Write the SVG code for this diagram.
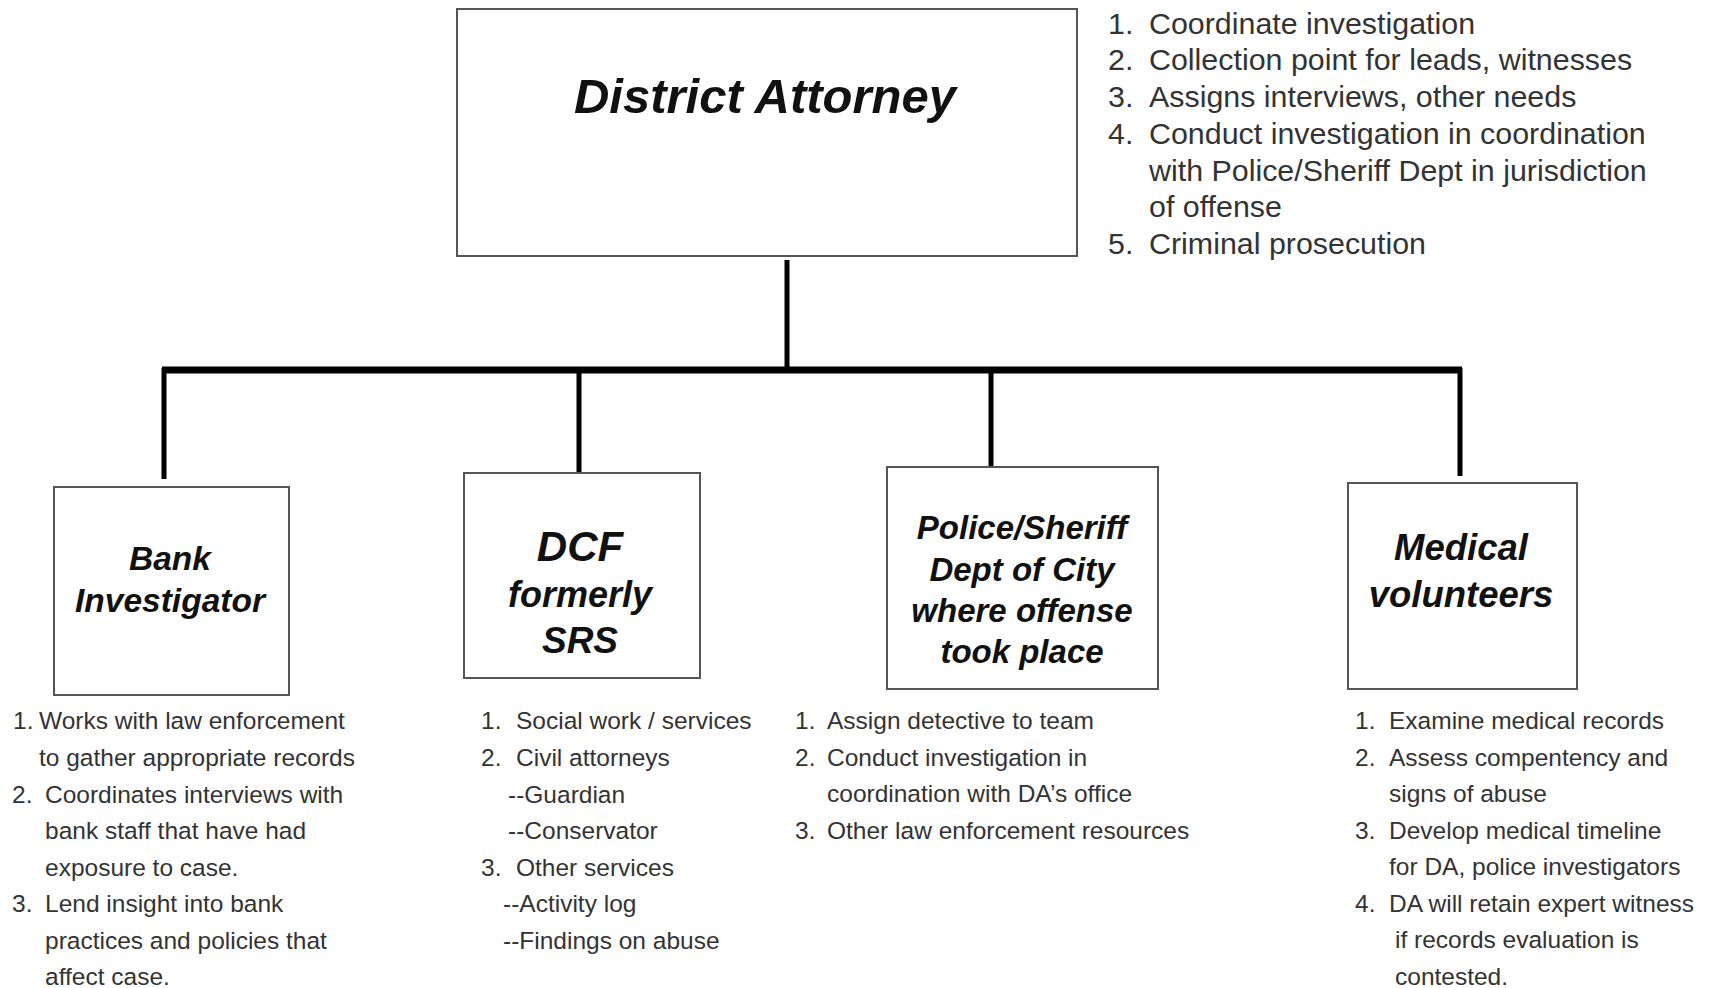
<svg xmlns="http://www.w3.org/2000/svg" width="1714" height="988" viewBox="0 0 1714 988">
<style>
.box{fill:#fff;stroke:#555;stroke-width:2}
.title{font-family:"Liberation Sans",Arial,sans-serif;font-weight:bold;font-style:italic;fill:#111;text-anchor:middle}
.da{font-family:"Liberation Sans",Arial,sans-serif;font-size:30.4px;fill:#333}
.lst{font-family:"Liberation Sans",Arial,sans-serif;font-size:24.5px;fill:#333}
.conn{stroke:#000;fill:none}
</style>
<rect width="1714" height="988" fill="#fff"/>
<g id="connectors">
<line class="conn" x1="787" y1="260" x2="787" y2="372" stroke-width="5"/>
<line class="conn" x1="162" y1="370" x2="1462" y2="370" stroke-width="7"/>
<line class="conn" x1="164" y1="368" x2="164" y2="479" stroke-width="5"/>
<line class="conn" x1="579" y1="370" x2="579" y2="473" stroke-width="5"/>
<line class="conn" x1="991" y1="370" x2="991" y2="478" stroke-width="5"/>
<line class="conn" x1="1460" y1="368" x2="1460" y2="476" stroke-width="5"/>
</g>
<g id="district-attorney">
<rect class="box" x="457" y="9" width="620" height="247"/>
<text class="title" x="765" y="113" font-size="49">District Attorney</text>
</g>
<g id="da-duties" class="da">
<text x="1108" y="34">1.</text><text x="1149" y="34">Coordinate investigation</text>
<text x="1108" y="70">2.</text><text x="1149" y="70">Collection point for leads, witnesses</text>
<text x="1108" y="107">3.</text><text x="1149" y="107">Assigns interviews, other needs</text>
<text x="1108" y="144">4.</text><text x="1149" y="144">Conduct investigation in coordination</text>
<text x="1149" y="181">with Police/Sheriff Dept in jurisdiction</text>
<text x="1149" y="217">of offense</text>
<text x="1108" y="254">5.</text><text x="1149" y="254">Criminal prosecution</text>
</g>
<g id="bank-investigator">
<rect class="box" x="54" y="487" width="235" height="208"/>
<text class="title" x="170" y="570" font-size="33.5">Bank</text>
<text class="title" x="170" y="612" font-size="33.5">Investigator</text>
</g>
<g id="bank-duties" class="lst">
<text x="13" y="729">1.</text><text x="39" y="729">Works with law enforcement</text>
<text x="39" y="766">to gather appropriate records</text>
<text x="12" y="803">2.</text><text x="45" y="803">Coordinates interviews with</text>
<text x="45" y="839">bank staff that have had</text>
<text x="45" y="876">exposure to case.</text>
<text x="12" y="912">3.</text><text x="45" y="912">Lend insight into bank</text>
<text x="45" y="949">practices and policies that</text>
<text x="45" y="985">affect case.</text>
</g>
<g id="dcf">
<rect class="box" x="464" y="473" width="236" height="205"/>
<text class="title" x="580" y="561" font-size="42">DCF</text>
<text class="title" x="580" y="607" font-size="36">formerly</text>
<text class="title" x="580" y="653" font-size="37">SRS</text>
</g>
<g id="dcf-duties" class="lst">
<text x="481" y="729">1.</text><text x="516" y="729">Social work / services</text>
<text x="481" y="766">2.</text><text x="516" y="766">Civil attorneys</text>
<text x="508" y="803">--Guardian</text>
<text x="508" y="839">--Conservator</text>
<text x="481" y="876">3.</text><text x="516" y="876">Other services</text>
<text x="503" y="912">--Activity log</text>
<text x="503" y="949">--Findings on abuse</text>
</g>
<g id="police-sheriff">
<rect class="box" x="887" y="467" width="271" height="222"/>
<text class="title" x="1022" y="539" font-size="33">Police/Sheriff</text>
<text class="title" x="1022" y="581" font-size="33">Dept of City</text>
<text class="title" x="1022" y="622" font-size="33">where offense</text>
<text class="title" x="1022" y="663" font-size="33">took place</text>
</g>
<g id="police-duties" class="lst">
<text x="795" y="729">1.</text><text x="827" y="729">Assign detective to team</text>
<text x="795" y="766">2.</text><text x="827" y="766">Conduct investigation in</text>
<text x="827" y="802">coordination with DA’s office</text>
<text x="795" y="839">3.</text><text x="827" y="839">Other law enforcement resources</text>
</g>
<g id="medical-volunteers">
<rect class="box" x="1348" y="483" width="229" height="206"/>
<text class="title" x="1461" y="560" font-size="36.5">Medical</text>
<text class="title" x="1461" y="607" font-size="36.5">volunteers</text>
</g>
<g id="medical-duties" class="lst">
<text x="1355" y="729">1.</text><text x="1389" y="729">Examine medical records</text>
<text x="1355" y="766">2.</text><text x="1389" y="766">Assess compentency and</text>
<text x="1389" y="802">signs of abuse</text>
<text x="1355" y="839">3.</text><text x="1389" y="839">Develop medical timeline</text>
<text x="1389" y="875">for DA, police investigators</text>
<text x="1355" y="912">4.</text><text x="1389" y="912">DA will retain expert witness</text>
<text x="1395" y="948">if records evaluation is</text>
<text x="1395" y="985">contested.</text>
</g>
</svg>
